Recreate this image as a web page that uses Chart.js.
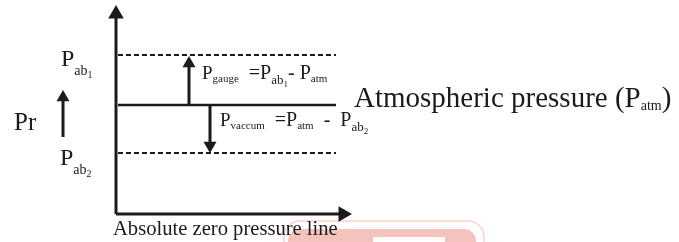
<!DOCTYPE html>
<html>
<head>
  <meta charset="utf-8">
  <title>Gauge and vacuum pressure</title>
  <style>
    body {
      background-color: #ffffff;
      margin: 0;
      padding: 0;
    }
    .chart-container {
      position: relative;
      width: 679px;
      height: 242px;
    }
  </style>
  <script src="https://cdn.jsdelivr.net/npm/chart.js"></script>
</head>
<body>
  <div class="chart-container">
    <canvas id="chartCanvas"></canvas>
  </div>

  <script>
    // Pressure levels, measured up from the absolute zero line.
    var levelNames = ['Pab2', 'Patm', 'Pab1'];
    var levelValues = [61, 109, 159];

    // Horizontal extent of the level lines, measured from the pressure axis.
    var lineFrom = 2;
    var lineTo = 220;

    // Axes of the diagram (arrow tips).
    var axisTopY = 209;
    var axisRightX = 236;

    // Arrows for gauge and vacuum pressure, and the small "Pr" arrow.
    var gaugeArrowX = 73;
    var vacuumArrowX = 94;
    var prArrowX = -53;
    var prArrowFrom = 77;
    var prArrowTo = 124;

    var ink = '#1c1a1a';
    var serif = '"Liberation Serif", "DejaVu Serif", serif';

    function arrow(x1, y1, x2, y2, head, rot, width) {
      // line ends at the triangle centre, triangle tip lands on (x2, y2)
      var dx = x2 - x1, dy = y2 - y1;
      var len = Math.sqrt(dx * dx + dy * dy);
      var cx = x2 - dx / len * head;
      var cy = y2 - dy / len * head;
      return {
        data: [{ x: x1, y: y1 }, { x: cx, y: cy }],
        showLine: true,
        borderColor: ink,
        borderWidth: width,
        pointRadius: [0, head],
        pointStyle: 'triangle',
        rotation: rot,
        backgroundColor: ink,
        pointBorderColor: ink,
        pointBorderWidth: 0
      };
    }

    function levelLine(y, dashed) {
      return {
        data: [{ x: lineFrom, y: y }, { x: lineTo, y: y }],
        showLine: true,
        borderColor: ink,
        borderWidth: dashed ? 2 : 2.5,
        borderDash: dashed ? [5, 3] : [],
        pointRadius: 0
      };
    }

    var datasets = [
      arrow(0, 0, 0, axisTopY, 9, 0, 3),
      arrow(0, 0, axisRightX, 0, 9, 90, 3),
      levelLine(levelValues[2], true),
      levelLine(levelValues[1], false),
      levelLine(levelValues[0], true),
      arrow(gaugeArrowX, levelValues[1], gaugeArrowX, levelValues[2] - 1, 7.5, 0, 3),
      arrow(vacuumArrowX, levelValues[1], vacuumArrowX, levelValues[0], 7.5, 180, 3),
      arrow(prArrowX, prArrowFrom, prArrowX, prArrowTo, 7.5, 0, 3)
    ];

    // Text runs: [text, size, baseline shift]
    var labels = [
      { x: -55, y: 148, runs: [['P', 24, 0], ['ab', 14, 9], ['1', 10, 12]] },
      { x: -56, y: 49, runs: [['P', 24, 0], ['ab', 14, 9], ['2', 10, 12]] },
      { x: -102, y: 84, runs: [['Pr', 25, 0]] },
      { x: 86, y: 135, runs: [['P', 19, 0], ['gauge', 11, 3], ['  =P', 20, 0], ['ab', 13, 5], ['1', 9, 8], ['- P', 20, 0], ['atm', 11, 3]] },
      { x: 104, y: 88, runs: [['P', 19, 0], ['vaccum', 11, 3], ['  =P', 20, 0], ['atm', 11, 3], ['  -  P', 20, 0], ['ab', 13, 5], ['2', 9, 8]] },
      { x: 238, y: 107, runs: [['Atmospheric pressure (P', 29, 0], ['atm', 14, 3], [')', 29, 0]] },
      { x: -3, y: -21, runs: [['Absolute zero pressure line', 20.6, 0]] }
    ];

    var textPlugin = {
      id: 'diagramText',
      beforeDatasetsDraw: function(chart) {
        // faint watermark at the bottom edge
        var c = chart.ctx;
        c.save();
        c.strokeStyle = '#f8d2ce';
        c.lineWidth = 1.5;
        c.beginPath();
        c.roundRect(284, 221, 200, 60, 16);
        c.stroke();
        c.fillStyle = '#f4c3be';
        c.beginPath();
        c.roundRect(288, 229, 188, 60, 12);
        c.fill();
        c.fillStyle = '#ffffff';
        c.fillRect(373, 237, 72, 10);
        c.restore();
      },
      afterDraw: function(chart) {
        var c = chart.ctx;
        var xs = chart.scales.x, ys = chart.scales.y;
        c.save();
        c.fillStyle = ink;
        c.textBaseline = 'alphabetic';
        labels.forEach(function(lab) {
          var px = xs.getPixelForValue(lab.x);
          var py = ys.getPixelForValue(lab.y);
          lab.runs.forEach(function(r) {
            c.font = r[1] + 'px ' + serif;
            c.fillText(r[0], px, py + r[2]);
            px += c.measureText(r[0]).width;
          });
        });
        c.restore();
      }
    };

    var ctx = document.getElementById('chartCanvas').getContext('2d');
    new Chart(ctx, {
      type: 'scatter',
      data: { datasets: datasets },
      options: {
        responsive: true,
        maintainAspectRatio: false,
        animation: false,
        layout: { padding: 0, autoPadding: false },
        plugins: {
          legend: { display: false },
          tooltip: { enabled: false }
        },
        scales: {
          x: { type: 'linear', min: -116, max: 563, display: false },
          y: { type: 'linear', min: -28, max: 214, display: false }
        }
      },
      plugins: [textPlugin]
    });
  </script>
</body>
</html>
